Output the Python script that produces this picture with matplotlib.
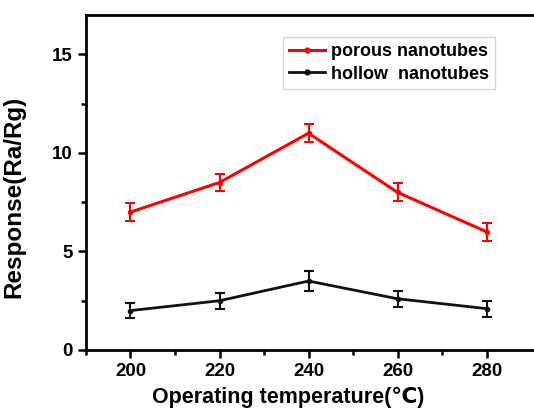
import matplotlib
matplotlib.use("Agg")
import matplotlib.pyplot as plt
from matplotlib.lines import Line2D
from matplotlib.ticker import MultipleLocator

# Operating temperatures and responses
temps = [200, 220, 240, 260, 280]
porous = [7.0, 8.5, 11.0, 8.0, 6.0]
porous_err = [0.45, 0.45, 0.45, 0.45, 0.45]
hollow = [2.0, 2.5, 3.5, 2.6, 2.1]
hollow_err = [0.4, 0.4, 0.5, 0.4, 0.4]

plt.rcParams["font.family"] = ["Liberation Sans", "DejaVu Sans"]
plt.rcParams["font.weight"] = "bold"

W, H = 534, 413
fig = plt.figure(figsize=(W / 100, H / 100), dpi=100)
# the frame runs off the right edge in the original, so the axes end at the figure edge
ax = fig.add_axes([86 / W, 63 / H, (W - 86) / W, 335 / H])

red = "#ff0000"
blk = "#111111"
ax.errorbar(temps, porous, yerr=porous_err, color=red, lw=2.2,
            marker="o", ms=3, capsize=3.5, capthick=1.5, elinewidth=1.5)
ax.errorbar(temps, hollow, yerr=hollow_err, color=blk, lw=2.0,
            marker="o", ms=3, capsize=3.5, capthick=1.5, elinewidth=1.5)

ax.set_xlim(190, 190 + (W - 86) / 4.45)
ax.set_ylim(0, 17)
ax.set_xticks([200, 220, 240, 260, 280])
ax.set_xticks([190, 210, 230, 250, 270], minor=True)
ax.yaxis.set_major_locator(MultipleLocator(5))
ax.yaxis.set_minor_locator(MultipleLocator(2.5))
ax.tick_params(which="both", direction="out", width=1.8, labelsize=13.5)
ax.tick_params(which="major", length=6)
ax.tick_params(which="minor", length=3.5)
ax.tick_params(top=False, right=False)
for s in ax.spines.values():
    s.set_linewidth(2)
ax.spines["right"].set_visible(False)

ax.set_xlabel("Operating temperature(\u2103)", fontsize=15.5, fontweight="bold")
ax.xaxis.set_label_coords((288 - 86) / (W - 86), -0.11)
ax.set_ylabel("Response(Ra/Rg)", fontsize=17.5, fontweight="bold")
ax.yaxis.set_label_coords(-0.136, (350 - 197) / 335)

handles = [
    Line2D([], [], color=red, lw=2.2, marker="o", ms=3.5),
    Line2D([], [], color=blk, lw=2.0, marker="o", ms=3.5),
]
leg = ax.legend(handles, ["porous nanotubes", "hollow  nanotubes"],
                loc="upper left",
                bbox_to_anchor=((283 - 86) / (W - 86), (350 - 37) / 335),
                borderaxespad=0, fontsize=13, frameon=True, fancybox=False,
                edgecolor="#cccccc", handlelength=2.0, handletextpad=0.3,
                borderpad=0.35, labelspacing=0.3)
leg.get_frame().set_linewidth(1)
for t in leg.get_texts():
    t.set_fontweight("bold")

fig.savefig("out.png", dpi=100)
